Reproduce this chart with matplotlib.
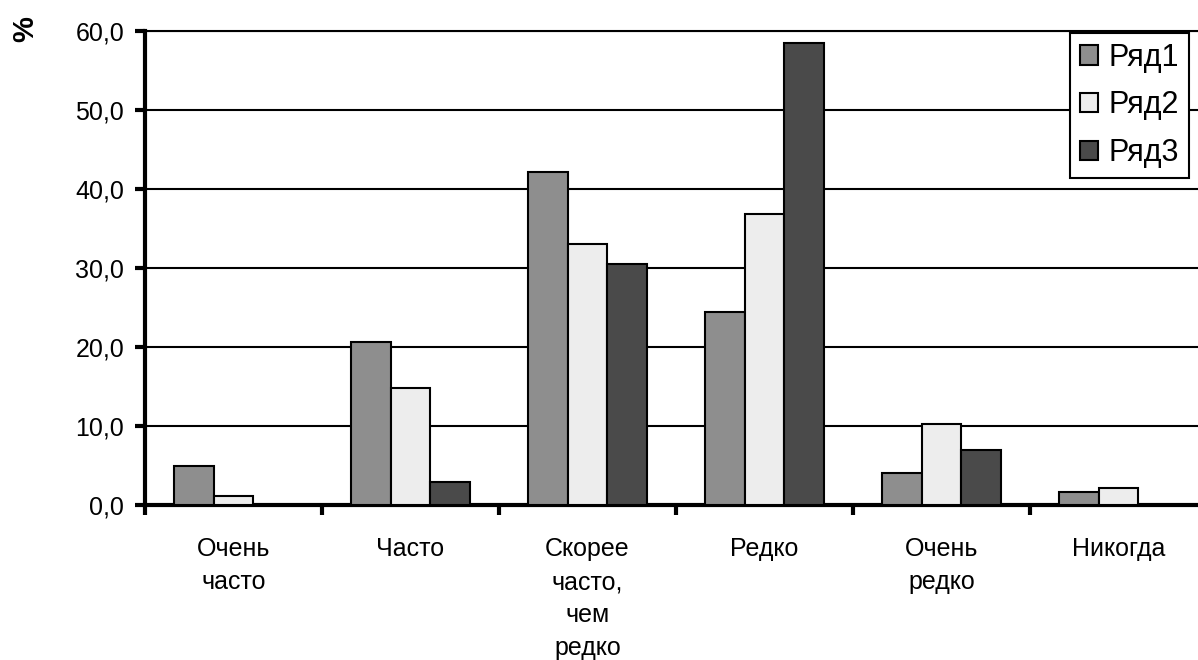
import numpy as np
import matplotlib
matplotlib.use("Agg")
import matplotlib.pyplot as plt
from matplotlib.ticker import FuncFormatter, FixedLocator

plt.rcParams['font.family'] = ['Liberation Sans', 'DejaVu Sans']

categories = ["Очень\nчасто", "Часто", "Скорее\nчасто,\nчем\nредко",
              "Редко", "Очень\nредко", "Никогда"]
series_names = ["Ряд1", "Ряд2", "Ряд3"]
row1 = [5.0, 20.7, 42.2, 24.4, 4.0, 1.7]
row2 = [1.2, 14.8, 33.0, 36.9, 10.3, 2.2]
row3 = [0.0, 2.9, 30.5, 58.5, 7.0, 0.0]
colors = ["#8e8e8e", "#ededed", "#4a4a4a"]

fig = plt.figure(figsize=(11.98, 6.6), dpi=100)
ax = fig.add_axes([0.121, 0.2348, 0.8865, 0.718])

x = np.arange(len(categories))
w = 0.223
for i, (vals, name) in enumerate(zip([row1, row2, row3], series_names)):
    ax.bar(x + (i - 1) * w, vals, width=w, color=colors[i],
           edgecolor="black", linewidth=1.5, label=name, zorder=3)

ax.set_xlim(-0.5, len(categories) - 0.5)
ax.set_ylim(0, 60)
ax.set_yticks(np.arange(0, 61, 10))
ax.yaxis.set_major_formatter(FuncFormatter(lambda v, p: f"{v:.1f}".replace('.', ',')))
ax.yaxis.grid(True, color="black", linewidth=1.5, zorder=0)

# category boundaries as ticks, labels at centers
ax.xaxis.set_major_locator(FixedLocator(np.arange(-0.5, len(categories), 1.0)))
ax.xaxis.set_major_formatter(FuncFormatter(lambda v, p: ""))
ax.xaxis.set_minor_locator(FixedLocator(x))
ax.set_xticklabels(categories, minor=True, fontsize=18, linespacing=1.48)
ax.tick_params(axis="x", which="minor", length=0, pad=23)
ax.tick_params(axis="x", which="major", length=7, width=3, direction="out")
ax.tick_params(axis="y", length=7, width=3, direction="out", labelsize=18, pad=8)

ax.spines["right"].set_visible(False)
ax.spines["top"].set_linewidth(1.5)
ax.spines["left"].set_linewidth(3)
ax.spines["bottom"].set_linewidth(3)

leg = ax.legend(loc="upper right", bbox_to_anchor=(0.9925, 0.95),
                bbox_transform=fig.transFigure, borderaxespad=0,
                fontsize=22, fancybox=False, framealpha=1,
                edgecolor="black", handlelength=0.6, handleheight=0.6,
                handletextpad=0.35, labelspacing=0.58, borderpad=0.32)
leg.get_frame().set_linewidth(1.5)

fig.text(0.021, 0.975, "%", rotation=90, fontsize=21, fontweight="bold",
         ha="center", va="top")

fig.savefig("out.png", dpi=100)
